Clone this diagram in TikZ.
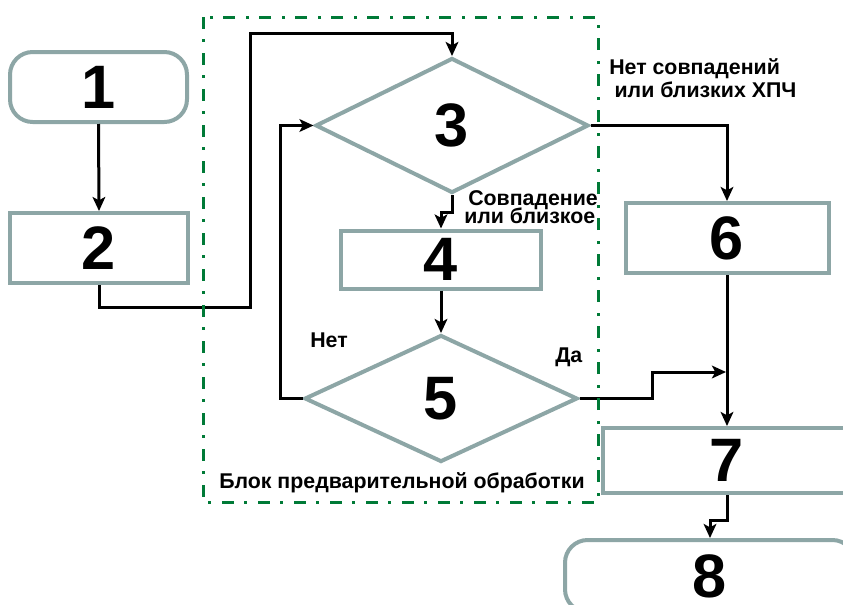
\documentclass[tikz,border=0pt]{standalone}
\usepackage{fontspec}
\setmainfont{Liberation Sans}
\usetikzlibrary{shapes.geometric,arrows.meta}
\definecolor{boxgray}{RGB}{141,166,166}
\definecolor{blockgreen}{RGB}{0,122,55}
\begin{document}
\begin{tikzpicture}[x=0.75pt,y=-0.75pt,
  digitfont/.style={font=\fontsize{46}{46}\selectfont\bfseries},
  proc/.style={draw=boxgray,line width=3pt,fill=white,inner sep=0pt,digitfont},
  term/.style={proc,rounded corners=17pt},
  dec/.style={proc,diamond,shape aspect=2},
  lab/.style={font=\fontsize{16}{17}\selectfont\bfseries,inner sep=0pt,align=left,anchor=base west},
  arr/.style={draw,line width=2.25pt,-{Stealth[length=10.5pt,width=9.5pt,inset=2.5pt]}},
  blockline/.style={draw=blockgreen,line width=2.25pt,dash pattern=on 9pt off 7.5pt on 2.25pt off 8.25pt}
]
\useasboundingbox (0,0) rectangle (843,604);
\clip (0,0) rectangle (843,604);

% nodes
\node[term, minimum width=132.75pt, minimum height=52.5pt] (n1) at (98.5,87) {1};
\node[proc, minimum width=133.5pt, minimum height=52.5pt] (n2) at (99,248) {2};
\node[dec, minimum width=204.75pt, minimum height=101.25pt] (n3) at (452,125.5) {3};
\node[proc, minimum width=150pt, minimum height=43.5pt] (n4) at (441,259.5) {4};
\node[dec, minimum width=204.75pt, minimum height=95.25pt] (n5) at (441,398.5) {5};
\node[proc, minimum width=152.25pt, minimum height=52.5pt] (n6) at (727,238) {6};
\node[proc, minimum width=186pt, minimum height=48.75pt] (n7) at (727,460.5) {7};
\node[term, minimum width=217.5pt, minimum height=54pt] (n8) at (710,576) {8};

% helper coordinates
\coordinate (a) at (250,307);
\coordinate (b) at (250,33);
\coordinate (d) at (441,212);
\coordinate (e) at (280,398.5);
\coordinate (f) at (652,398.5);
\coordinate (g) at (652,372);
\coordinate (h) at (726,372);
\coordinate (k) at (710,520);

% connectors
\draw[arr] (n1.south) -- (n2.north);
\draw[arr] (n2.south) |- (a) -- (b) -| (n3.north);
\draw[arr] (n3.east) -| (n6.north);
\draw[arr] (n3.south) |- (d) -- (n4.north);
\draw[arr] (n4.south) -- (n5.north);
\draw[arr] (n5.west) -- (e) |- (n3.west);
\draw[arr] (n5.east) -- (f) -- (g) -- (h);
\draw[arr] (n6.south) -- (n7.north);
\draw[arr] (n7.south) |- (k) -- (n8.north);

% labels (base anchor = baseline of the last line)
\node[lab] (l1) at (609,97) {Нет совпадений\\\hspace*{4pt}или близких ХПЧ};
\node[lab] (l2) at (464,223) {\hspace*{3pt}Совпадение\\[-4pt]или близкое};
\node[lab] (l3) at (310,347) {Нет};
\node[lab] (l4) at (555,362) {Да};
\node[lab] (l5) at (219,488) {Блок предварительной обработки};

% processing block frame
\draw[blockline] (203,17) rectangle (598,502);
\end{tikzpicture}
\end{document}
